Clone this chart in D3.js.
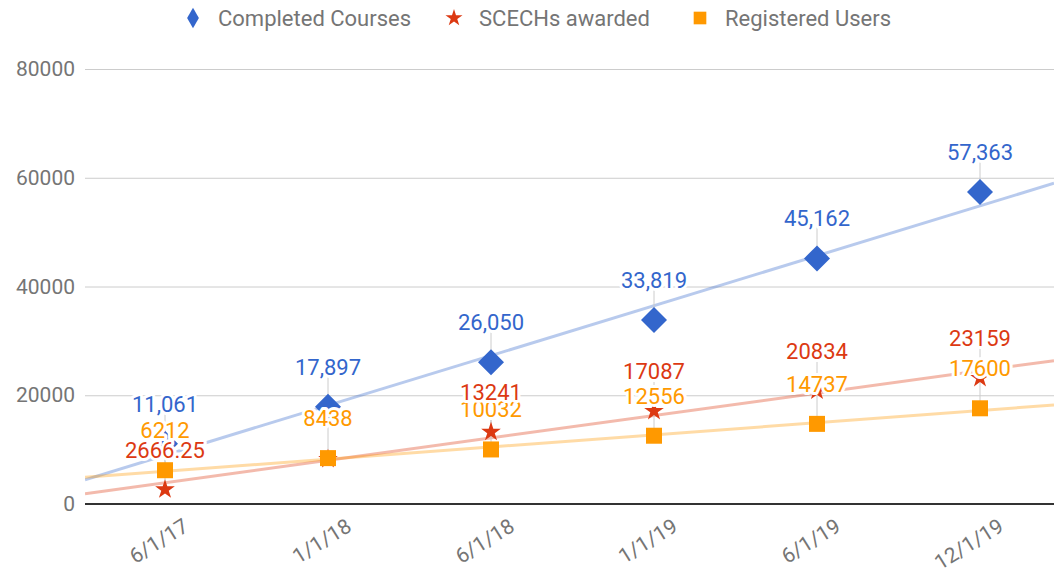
<html>
<head>
<style type="text/css">
	body { margin: 0; background: #fff; }
	text { font-family: Roboto, "Noto Sans", sans-serif; }
</style>
<script src="https://d3js.org/d3.v7.min.js"></script>
</head>
<body>
<script type="text/javascript">

	var categories = ['6/1/17', '1/1/18', '6/1/18', '1/1/19', '6/1/19', '12/1/19'];
	var completed = [11061, 17897, 26050, 33819, 45162, 57363];
	var scechs = [2666.25, 8250, 13241, 17087, 20834, 23159];
	var registered = [6212, 8438, 10032, 12556, 14737, 17600];
	var yTicks = [0, 20000, 40000, 60000, 80000];

	var seriesNames = ['Completed Courses', 'SCECHs awarded', 'Registered Users'];
	var seriesColors = ['#3366cc', '#dc3912', '#ff9900'];
	var seriesShapes = ['diamond', 'star', 'square'];

	var width = 1054, height = 574;
	var plotLeft = 85, plotRight = 1054, plotTop = 69, plotBottom = 504;

	var series = [completed, scechs, registered].map(function(vals, i) {
		return { name: seriesNames[i], color: seriesColors[i], shape: seriesShapes[i], values: vals };
	});

	var x = d3.scaleBand().domain(categories).range([83.5, 1061.5]);
	var y = d3.scaleLinear().domain([0, 80000]).range([plotBottom, plotTop]);
	var cx = function(c) { return x(c) + x.bandwidth() / 2; };

	var svg = d3.select('body').append('svg').attr('width', width).attr('height', height);

	svg.append('defs').append('clipPath').attr('id', 'plot')
		.append('rect').attr('x', plotLeft).attr('y', 0).attr('width', plotRight - plotLeft).attr('height', plotBottom);

	// grid + y labels
	svg.append('g')
		.attr('transform', 'translate(' + plotLeft + ',0)')
		.call(d3.axisLeft(y).tickValues(yTicks).tickSize(-(plotRight - plotLeft)).tickPadding(10).tickFormat(d3.format('d')))
		.call(function(g) {
			g.select('.domain').remove();
			g.selectAll('.tick line').attr('stroke', '#cccccc');
			g.selectAll('.tick text').attr('fill', '#757575').attr('font-size', 21);
		});

	// baseline
	svg.append('line').attr('x1', plotLeft).attr('x2', plotRight).attr('y1', y(0)).attr('y2', y(0))
		.attr('stroke', '#333').attr('stroke-width', 2);

	// x labels
	svg.append('g').selectAll('text').data(categories).enter().append('text')
		.attr('transform', function(d) { return 'translate(' + (cx(d) + 25) + ',' + 530 + ') rotate(-32)'; })
		.attr('text-anchor', 'end')
		.attr('fill', '#757575').attr('font-size', 21)
		.text(function(d) { return d; });

	// trendlines (least squares on category index)
	var trend = svg.append('g').attr('clip-path', 'url(#plot)');
	series.forEach(function(s) {
		var n = s.values.length;
		var mx = d3.mean(d3.range(n)), my = d3.mean(s.values);
		var sxy = d3.sum(s.values, function(v, i) { return (i - mx) * (v - my); });
		var sxx = d3.sum(d3.range(n), function(i) { return (i - mx) * (i - mx); });
		var slope = sxy / sxx, icpt = my - slope * mx;
		var step = x.step();
		var ix = function(px) { return (px - cx(categories[0])) / step; };
		trend.append('line')
			.attr('x1', plotLeft).attr('y1', y(icpt + slope * ix(plotLeft)))
			.attr('x2', plotRight).attr('y2', y(icpt + slope * ix(plotRight)))
			.attr('stroke', s.color).attr('stroke-opacity', 0.35).attr('stroke-width', 3);
	});

	function shapePath(shape, big) {
		if (shape == 'star') return d3.symbol().type(d3.symbolStar).size(big ? 120 : 90)();
		if (shape == 'square') return d3.symbol().type(d3.symbolSquare).size(big ? 256 : 160)();
		return big ? 'M0,-13L13,0L0,13L-13,0Z' : d3.symbol().type(d3.symbolDiamond).size(120)();
	}

	// leader lines + labels: place from last series up, drop overlapping ones
	var placed = [];
	var labels = [];
	for (var si = series.length - 1; si >= 0; si--) {
		var s = series[si];
		s.values.forEach(function(v, i) {
			var px = cx(categories[i]), py = y(v) - 40;
			var clash = placed.some(function(p) { return p.i == i && Math.abs(p.y - py) < 12; });
			if (clash) return;
			placed.push({ i: i, y: py });
			labels.push({ x: px, y: py, py: y(v), color: s.color,
				text: si == 0 ? d3.format(',')(v) : String(v) });
		});
	}

	svg.append('g').selectAll('line').data(labels).enter().append('line')
		.attr('x1', function(d) { return d.x; }).attr('x2', function(d) { return d.x; })
		.attr('y1', function(d) { return d.y + 8; }).attr('y2', function(d) { return d.py; })
		.attr('stroke', '#cccccc').attr('stroke-width', 1);

	// markers
	series.forEach(function(s) {
		svg.append('g').selectAll('path').data(s.values).enter().append('path')
			.attr('d', shapePath(s.shape, true))
			.attr('transform', function(d, i) { return 'translate(' + cx(categories[i]) + ',' + y(d) + ')'; })
			.attr('fill', s.color);
	});

	svg.append('g').selectAll('text').data(labels).enter().append('text')
		.attr('x', function(d) { return d.x; }).attr('y', function(d) { return d.y + 8; })
		.attr('text-anchor', 'middle').attr('font-size', 22)
		.attr('fill', function(d) { return d.color; })
		.attr('stroke', '#fff').attr('stroke-width', 6).attr('stroke-linejoin', 'round')
		.attr('paint-order', 'stroke')
		.text(function(d) { return d.text; });

	// legend
	var legendX = [193, 454, 700];
	var lg = svg.append('g');
	series.forEach(function(s, i) {
		lg.append('path').attr('d', shapePath(s.shape, false))
			.attr('transform', 'translate(' + legendX[i] + ',18)').attr('fill', s.color);
		lg.append('text').attr('x', legendX[i] + 25).attr('y', 26)
			.attr('fill', '#757575').attr('font-size', 22).text(s.name);
	});

</script>
</body>
</html>
